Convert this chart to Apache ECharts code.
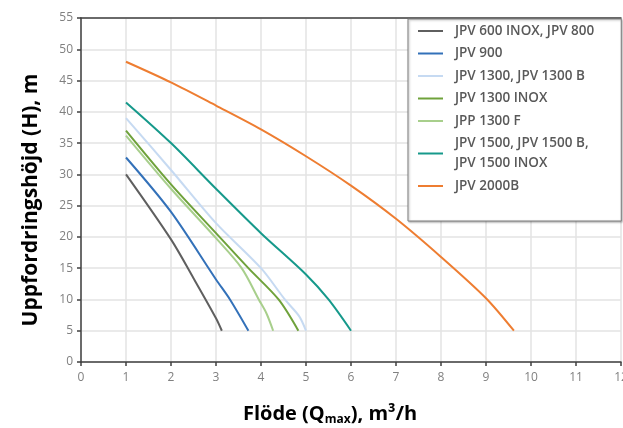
<!DOCTYPE html>
<html>
<head>
<meta charset="utf-8">
<script src="https://cdn.jsdelivr.net/npm/echarts@6/dist/echarts.min.js"></script>
<style>html,body{margin:0;padding:0;background:#fff}#c{width:623px;height:428px}</style>
</head>
<body>
<div id="c"></div>
<script>
var names = [
  'JPV 600 INOX, JPV 800',
  'JPV 900',
  'JPV 1300, JPV 1300 B',
  'JPV 1300 INOX',
  'JPP 1300 F',
  'JPV 1500, JPV 1500 B,\nJPV 1500 INOX',
  'JPV 2000B'
];
var colors = ['#5f5f5f', '#3371b9', '#c6daf2', '#6fa23b', '#a8cf8c', '#16998b', '#ee7d31'];
var jpv600 = [[1, 30.0], [2, 19.6], [2.5, 13.4], [3, 7.0], [3.13, 5]];
var jpv900 = [[1, 32.7], [2, 24.0], [3, 13.2], [3.31, 10], [3.72, 5]];
var jpv1300 = [[1, 39.0], [2, 30.7], [3, 22.2], [4, 15.0], [4.53, 10], [4.85, 7.3], [5.0, 5]];
var jpv1300inox = [[1, 37.0], [2, 28.4], [3, 20.6], [3.72, 15], [4.39, 10], [4.83, 5]];
var jpp1300f = [[1, 36.2], [2, 27.7], [3, 19.8], [3.57, 15], [3.95, 10], [4.12, 7.8], [4.27, 5]];
var jpv1500 = [[1, 41.5], [2, 35.0], [3, 27.7], [4, 20.6], [5, 14.0], [5.5, 10], [6, 5]];
var jpv2000b = [[1, 48.0], [2, 44.7], [3, 41.0], [4, 37.2], [5, 32.9], [6, 28.2], [7, 22.9], [8, 16.8], [9, 10.2], [9.62, 5]];
var seriesData = [jpv600, jpv900, jpv1300, jpv1300inox, jpp1300f, jpv1500, jpv2000b];
var xTicks = [0, 1, 2, 3, 4, 5, 6, 7, 8, 9, 10, 11, 12];
var yTicks = [0, 5, 10, 15, 20, 25, 30, 35, 40, 45, 50, 55];

var chart = echarts.init(document.getElementById('c'), null, {renderer: 'canvas'});
var tickColor = '#808080';
var series = seriesData.map(function (d, i) {
  return {
    name: names[i], type: 'line', data: d, symbol: 'none', smooth: 0.3,
    lineStyle: {color: colors[i], width: 2}, itemStyle: {color: colors[i]}, z: 2
  };
});
chart.setOption({
  animation: false,
  backgroundColor: '#fff',
  grid: {left: 81, top: 18, right: 2, bottom: 66, outerBoundsMode: 'none', containLabel: false},
  legend: {
    orient: 'vertical', left: 408, top: 19,
    data: names,
    formatter: function (n) { return '  ' + n.replace('\n', '\n  '); },
    icon: 'rect', itemWidth: 25, itemHeight: 2, itemGap: 2.5,
    padding: [2, 27, 25, 10],
    backgroundColor: '#fff', borderColor: '#7f7f7f', borderWidth: 1,
    shadowColor: 'rgba(0,0,0,0.3)', shadowBlur: 2, shadowOffsetX: 1, shadowOffsetY: 1,
    textStyle: {fontFamily: 'Open Sans', fontWeight: 600, fontSize: 13.5, color: '#595959', lineHeight: 20},
    z: 10
  },
  xAxis: [{
    type: 'value', min: xTicks[0], max: xTicks[xTicks.length - 1], interval: 1,
    axisLine: {show: true, lineStyle: {color: '#404040', width: 1.5}},
    axisTick: {show: true, length: 4, lineStyle: {color: '#404040', width: 1.5}},
    axisLabel: {color: tickColor, fontFamily: 'Open Sans', fontSize: 12, margin: 10},
    splitLine: {show: true, lineStyle: {color: '#e3e3e3', width: 1.5}},
    name: '{a|Flöde (Q}{s|max}{a|), m³/h}',
    nameLocation: 'middle', nameGap: 40,
    nameTextStyle: {
      padding: [0, 42, 0, 0],
      rich: {
        a: {fontFamily: 'Open Sans', fontWeight: 'bold', fontSize: 20, color: '#000', lineHeight: 24},
        s: {fontFamily: 'Open Sans', fontWeight: 'bold', fontSize: 12, color: '#000', lineHeight: 10, verticalAlign: 'bottom'}
      }
    }
  }, {
    type: 'value', position: 'top', min: 0, max: 12,
    axisLine: {show: true, lineStyle: {color: '#404040', width: 1.5}},
    axisTick: {show: false}, axisLabel: {show: false}, splitLine: {show: false}
  }],
  yAxis: {
    type: 'value', min: yTicks[0], max: yTicks[yTicks.length - 1], interval: 5,
    axisLine: {show: true, lineStyle: {color: '#404040', width: 1.5}},
    axisTick: {show: true, length: 4, lineStyle: {color: '#404040', width: 1.5}},
    axisLabel: {color: tickColor, fontFamily: 'Open Sans', fontSize: 12, margin: 8},
    splitLine: {show: true, lineStyle: {color: '#e3e3e3', width: 1.5}},
    name: 'Uppfordringshöjd (H), m',
    nameLocation: 'middle', nameGap: 39,
    nameTextStyle: {fontFamily: 'Open Sans', fontWeight: 'bold', fontSize: 21, color: '#000', padding: [0, 20, 0, 0]}
  },
  series: series
});
</script>
</body>
</html>
